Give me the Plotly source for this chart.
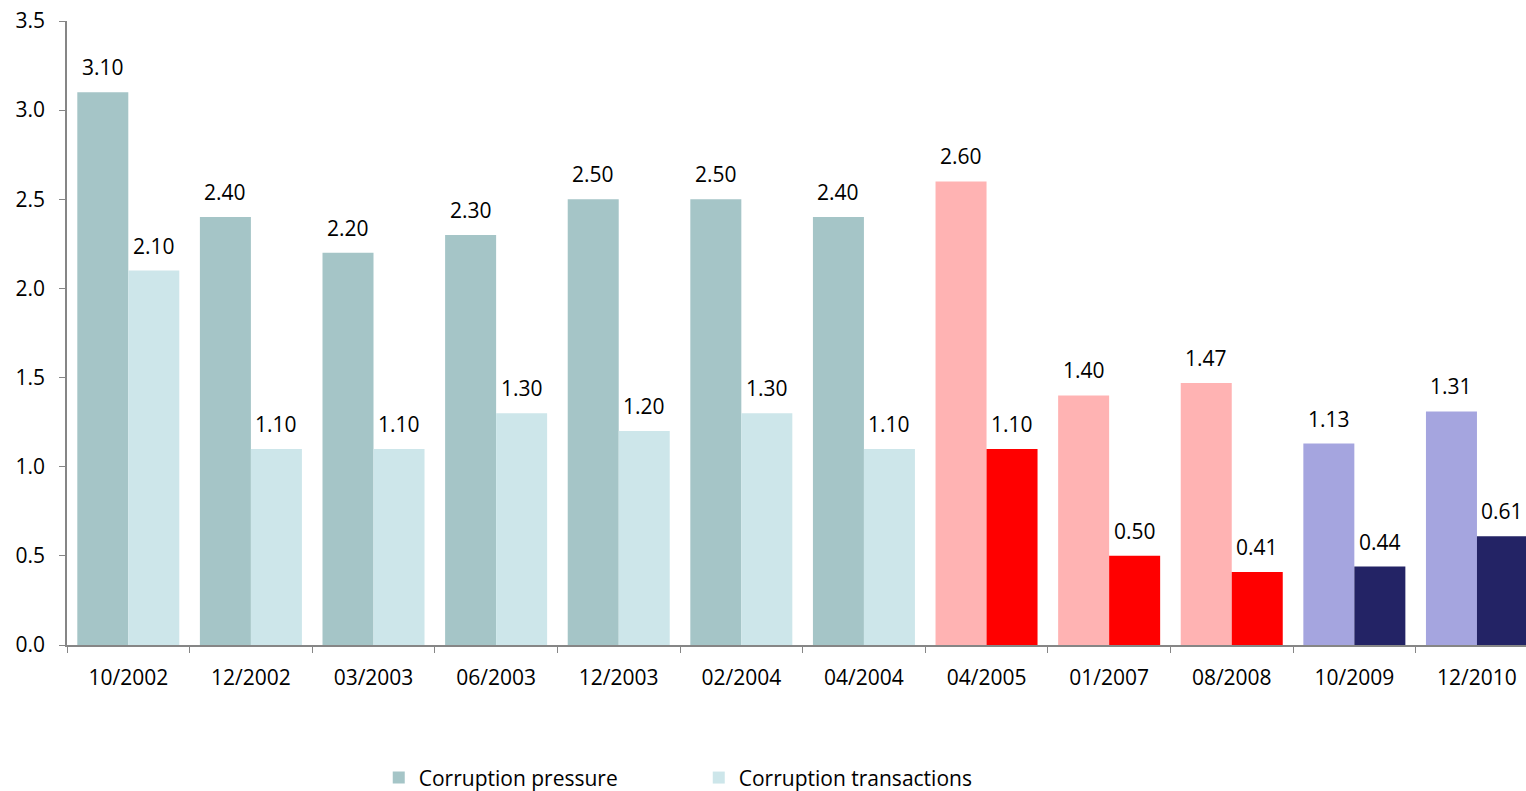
import plotly.graph_objects as go

categories = ["10/2002", "12/2002", "03/2003", "06/2003", "12/2003", "02/2004",
              "04/2004", "04/2005", "01/2007", "08/2008", "10/2009", "12/2010"]
pressure = [3.10, 2.40, 2.20, 2.30, 2.50, 2.50, 2.40, 2.60, 1.40, 1.47, 1.13, 1.31]
transactions = [2.10, 1.10, 1.10, 1.30, 1.20, 1.30, 1.10, 1.10, 0.50, 0.41, 0.44, 0.61]

pressure_colors = ["#A5C5C7"] * 7 + ["#FFB3B3"] * 3 + ["#A5A5DF"] * 2
transaction_colors = ["#CDE6EA"] * 7 + ["#FF0000"] * 3 + ["#232365"] * 2

FONT = "Open Sans"
FS = 21

fig = go.Figure()
fig.add_trace(go.Bar(x=categories, y=pressure, name="Corruption pressure",
                     marker=dict(color=pressure_colors, line=dict(width=0))))
fig.add_trace(go.Bar(x=categories, y=transactions, name="Corruption transactions",
                     marker=dict(color=transaction_colors, line=dict(width=0))))

off = 0.208
annotations = []
for i, (p, t) in enumerate(zip(pressure, transactions)):
    annotations.append(dict(x=i - off, y=p, xref="x", yref="y", text=f"{p:.2f}",
                            showarrow=False, yshift=25, font=dict(size=FS, color="#000000", family=FONT)))
    annotations.append(dict(x=i + off, y=t, xref="x", yref="y", text=f"{t:.2f}",
                            showarrow=False, yshift=25, font=dict(size=FS, color="#000000", family=FONT)))

fig.update_layout(
    width=1526, height=791,
    margin=dict(l=67, r=0, t=21, b=146, autoexpand=False),
    paper_bgcolor="white", plot_bgcolor="white",
    barmode="group", bargap=0.168, bargroupgap=0,
    font=dict(family=FONT, size=FS, color="#000000"),
    annotations=annotations,
    showlegend=True,
    legend=dict(orientation="h", x=0.433, xanchor="center", y=-0.213, yanchor="middle",
                font=dict(size=FS, family=FONT), entrywidth=275),
    xaxis=dict(type="category", range=[-0.5, 11.4], showline=True, linecolor="#868686",
               linewidth=1.5, ticks="outside", tickson="boundaries", ticklen=6,
               tickcolor="#868686", showgrid=False, tickfont=dict(size=FS),
               ticklabelstandoff=13, ticklabeloverflow="allow"),
    yaxis=dict(range=[0, 3.5], dtick=0.5, tickformat=".1f", showline=True,
               linecolor="#868686", linewidth=1.5, ticks="outside", ticklen=6,
               tickcolor="#868686", showgrid=False, zeroline=False, tickfont=dict(size=FS),
               ticklabelstandoff=10, ticklabeloverflow="allow"),
)

fig.write_html("out.html", config={"displayModeBar": False},
               post_script="document.body.style.margin='0';document.body.style.overflow='hidden';")
